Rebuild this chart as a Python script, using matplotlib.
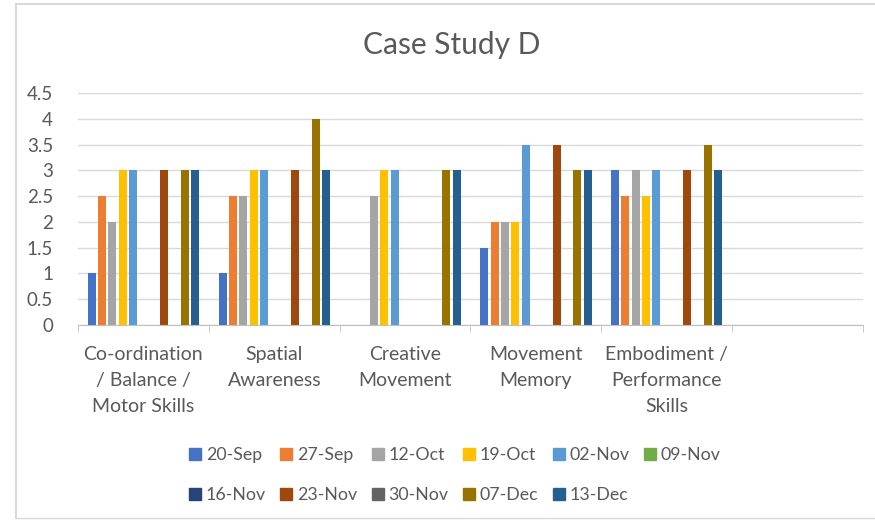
import numpy as np
import matplotlib
matplotlib.use("Agg")
import matplotlib.pyplot as plt
from matplotlib.lines import Line2D

plt.rcParams['font.family'] = ['Lato', 'DejaVu Sans']

categories = ["Co-ordination\n/ Balance /\nMotor Skills", "Spatial\nAwareness",
              "Creative\nMovement", "Movement\nMemory",
              "Embodiment /\nPerformance\nSkills", ""]
dates = ["20-Sep", "27-Sep", "12-Oct", "19-Oct", "02-Nov", "09-Nov",
         "16-Nov", "23-Nov", "30-Nov", "07-Dec", "13-Dec"]
colors = ["#4472C4", "#ED7D31", "#A5A5A5", "#FFC000", "#5B9BD5", "#70AD47",
          "#264478", "#9E480E", "#636363", "#997300", "#255E91"]

# one list per date, one value per category (last category is empty)
s_20sep = [1, 1, 0, 1.5, 3, 0]
s_27sep = [2.5, 2.5, 0, 2, 2.5, 0]
s_12oct = [2, 2.5, 2.5, 2, 3, 0]
s_19oct = [3, 3, 3, 2, 2.5, 0]
s_02nov = [3, 3, 3, 3.5, 3, 0]
s_09nov = [0, 0, 0, 0, 0, 0]
s_16nov = [0, 0, 0, 0, 0, 0]
s_23nov = [3, 3, 0, 3.5, 3, 0]
s_30nov = [0, 0, 0, 0, 0, 0]
s_07dec = [3, 4, 3, 3, 3.5, 0]
s_13dec = [3, 3, 3, 3, 3, 0]
series = [s_20sep, s_27sep, s_12oct, s_19oct, s_02nov, s_09nov,
          s_16nov, s_23nov, s_30nov, s_07dec, s_13dec]

txt = "#595959"
fig = plt.figure(figsize=(8.75, 5.23), dpi=100)
ax = fig.add_axes([78 / 875, 1 - 325 / 523, (863 - 78) / 875, (325 - 93) / 523])

x = np.arange(len(categories))
pitch = 0.079
width = 0.062
handles = []
for i, (vals, col, lab) in enumerate(zip(series, colors, dates)):
    ax.bar(x + (i - 5) * pitch, vals, width, color=col, zorder=3)
    handles.append(Line2D([], [], marker='s', linestyle='none', markersize=8,
                          markerfacecolor=col, markeredgecolor=col, label=lab))

ax.set_xlim(-0.5, len(categories) - 0.5)
ax.set_ylim(0, 4.5)
ax.set_yticks(np.arange(0, 4.51, 0.5))
ax.set_yticklabels(["0", "0.5", "1", "1.5", "2", "2.5", "3", "3.5", "4", "4.5"])
ax.set_xticks(x)
ax.set_xticklabels(categories, linespacing=1.65)
ax.set_xticks(np.arange(-0.5, len(categories), 1), minor=True)
ax.tick_params(axis='x', which='major', length=0, pad=15, labelsize=14, labelcolor=txt)
ax.tick_params(axis='x', which='minor', length=5, color="#BFBFBF")
ax.tick_params(axis='y', length=0, pad=18, labelsize=13.5, labelcolor=txt)
ax.grid(axis='y', color="#D9D9D9", linewidth=1, zorder=0)
for s in ["top", "right", "left"]:
    ax.spines[s].set_visible(False)
ax.spines["bottom"].set_color("#BFBFBF")
ax.spines["bottom"].set_zorder(4)

fig.text(0.516, 1 - 45 / 523, "Case Study D", ha='center', va='center',
         fontsize=21.5, color=txt)

# legend: 6 entries on first row, 5 on second (column-major ordering)
order = [0, 6, 1, 7, 2, 8, 3, 9, 4, 10, 5]
fig.legend([handles[k] for k in order], [dates[k] for k in order], ncol=6,
           loc='center', bbox_to_anchor=(455 / 875, 1 - 475 / 523), frameon=False,
           fontsize=12.8, labelcolor=txt, handlelength=0.6, handletextpad=0.3,
           columnspacing=0.85, labelspacing=1.35, borderpad=0)

# light frame around the chart area
frame = "#D9D9D9"
fig.add_artist(Line2D([16 / 875, 1], [1 - 4 / 523] * 2, color=frame, lw=1.5))
fig.add_artist(Line2D([16 / 875] * 2, [1 - 4 / 523, 1 - 518 / 523], color=frame, lw=1.5))
fig.add_artist(Line2D([16 / 875, 1], [1 - 518 / 523] * 2, color=frame, lw=1))

fig.savefig("out.png", dpi=100)
